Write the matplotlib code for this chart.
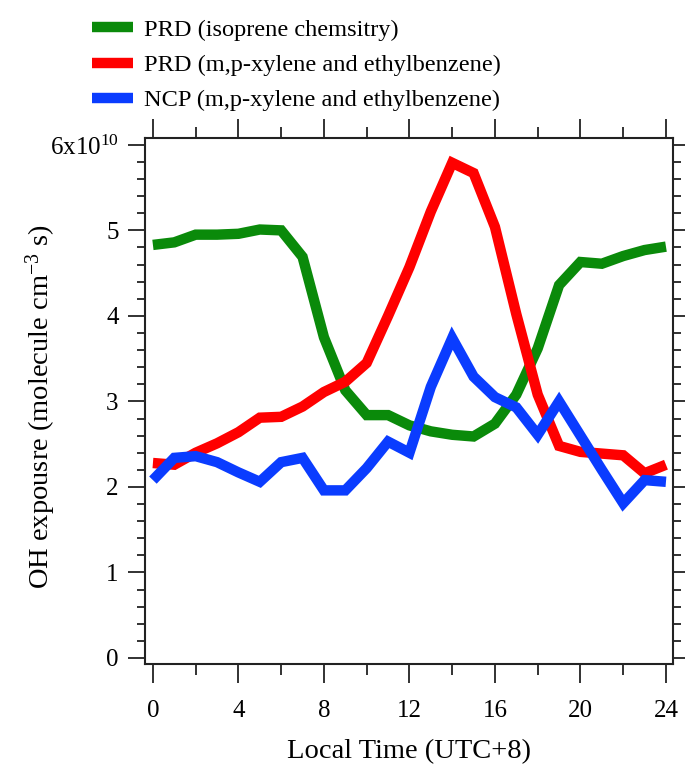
import matplotlib
matplotlib.use("Agg")
import matplotlib.pyplot as plt
from matplotlib.ticker import MultipleLocator, FuncFormatter

plt.rcParams['font.family'] = ['Liberation Serif', 'DejaVu Serif']
plt.rcParams['mathtext.fontset'] = 'custom'
plt.rcParams['mathtext.rm'] = 'Liberation Serif'
plt.rcParams['mathtext.it'] = 'Liberation Serif:italic'

hours = list(range(25))
prd_isoprene = [4.83, 4.86, 4.95, 4.95, 4.96, 5.01, 5.00, 4.69, 3.75, 3.13, 2.84, 2.84, 2.72,
                2.65, 2.61, 2.59, 2.74, 3.08, 3.62, 4.36, 4.63, 4.61, 4.70, 4.77, 4.81]
prd_xylene = [2.28, 2.26, 2.40, 2.51, 2.64, 2.81, 2.82, 2.94, 3.11, 3.23, 3.45, 4.00, 4.57,
              5.22, 5.79, 5.67, 5.04, 4.02, 3.08, 2.48, 2.41, 2.39, 2.37, 2.16, 2.26]
ncp_xylene = [2.08, 2.34, 2.36, 2.29, 2.17, 2.06, 2.29, 2.34, 1.96, 1.96, 2.22, 2.53, 2.40,
              3.17, 3.74, 3.29, 3.05, 2.93, 2.61, 3.00, 2.60, 2.20, 1.81, 2.08, 2.06]
labels = ["PRD (isoprene chemsitry)",
          "PRD (m,p-xylene and ethylbenzene)",
          "NCP (m,p-xylene and ethylbenzene)"]
colors = ["#0a8a0a", "#ff0000", "#0a3cff"]

fig = plt.figure(figsize=(6.85, 7.71), dpi=100)
ax = fig.add_axes([0.2117, 0.1388, 0.9825 - 0.2117, 0.821 - 0.1388])

for series, lab, col in zip([prd_isoprene, prd_xylene, ncp_xylene], labels, colors):
    ax.plot(hours, series, color=col, lw=7.5, label=lab, solid_joinstyle='miter',
            solid_capstyle='butt')

ax.set_xlim(-0.37, 24.33)
ax.set_ylim(-0.07, 6.08)
ax.xaxis.set_major_locator(MultipleLocator(4))
ax.xaxis.set_minor_locator(MultipleLocator(2))
ax.yaxis.set_major_locator(MultipleLocator(1))
ax.yaxis.set_minor_locator(MultipleLocator(0.2))

def yfmt(v, pos):
    if abs(v - 6) < 1e-6:
        return r"6x10$^{10}$"
    return "%d" % round(v)
ax.yaxis.set_major_formatter(FuncFormatter(yfmt))

ax.tick_params(which='both', direction='out', top=True, right=True,
               labeltop=False, labelright=False, width=1.3, colors='#222222',
               labelcolor='black', labelsize=18)
ax.tick_params(axis='x', which='major', length=14, pad=12)
ax.tick_params(axis='x', which='minor', length=8)
ax.tick_params(axis='y', which='major', length=12, pad=7)
ax.tick_params(axis='y', which='minor', length=6)
for s in ax.spines.values():
    s.set_linewidth(1.5)
    s.set_color('#222222')

ax.set_xlabel("Local Time (UTC+8)", fontsize=20.5, labelpad=12)
ax.set_ylabel(r"OH expousre (molecule cm$^{-3}$ s)", fontsize=20.5)
ax.yaxis.set_label_coords(-0.165, 0.49)

fig.legend(loc='upper left', bbox_to_anchor=(0.102, 1.004), frameon=False,
           fontsize=17.6, handlelength=1.7, handletextpad=0.45, labelspacing=0.53)

fig.savefig("out.png", dpi=100)
